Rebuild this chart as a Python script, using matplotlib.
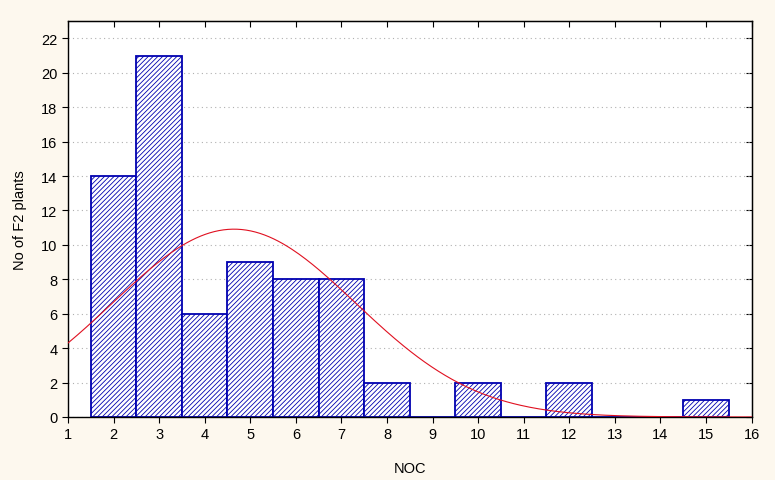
import matplotlib
matplotlib.use('Agg')
import matplotlib.pyplot as plt
import numpy as np

plt.rcParams['font.family'] = ['Liberation Sans', 'DejaVu Sans']
plt.rcParams['hatch.linewidth'] = 0.6

noc = [2, 3, 4, 5, 6, 7, 8, 9, 10, 11, 12, 13, 14, 15]
counts = [14, 21, 6, 9, 8, 8, 2, 0, 2, 0, 2, 0, 0, 1]
x_ticks = list(range(1, 17))
y_ticks = list(range(0, 23, 2))

# normal curve fitted to the counts
vals = np.repeat(noc, counts)
mu = vals.mean()
sd = vals.std(ddof=1)
xs = np.linspace(1, 16, 300)
curve = len(vals) * np.exp(-0.5 * ((xs - mu) / sd) ** 2) / (sd * np.sqrt(2 * np.pi))

fig = plt.figure(figsize=(7.75, 4.81), dpi=100, facecolor='#fdf8ee')
ax = fig.add_axes([0.0877, 0.131, 0.882, 0.823])

ax.bar(noc, counts, width=1.0, color='white', edgecolor='#0000b0',
       hatch='///////', linewidth=1.3, zorder=2)
ax.plot(xs, curve, color='#e01020', linewidth=0.8, zorder=3)

ax.set_xlim(1, 16)
ax.set_ylim(0, 23)
ax.set_xticks(x_ticks)
ax.set_yticks(y_ticks)
ax.grid(axis='y', linestyle=(0, (1, 3)), color='#b0b0b0', linewidth=0.8, zorder=0)
ax.tick_params(labelsize=10.5, direction='out', length=4)
for spine in ax.spines.values():
    spine.set_linewidth(1.0)

# inward ticks on the top and right edges
top = ax.secondary_xaxis('top')
top.set_xticks(x_ticks)
top.tick_params(direction='in', length=4, labeltop=False)
right = ax.secondary_yaxis('right')
right.set_yticks(y_ticks)
right.tick_params(direction='in', length=4, labelright=False)

ax.set_xlabel('NOC', fontsize=10.5, labelpad=14)
ax.set_ylabel('No of F2 plants', fontsize=10.5, labelpad=10)

fig.savefig('out.png', dpi=100, facecolor=fig.get_facecolor())
